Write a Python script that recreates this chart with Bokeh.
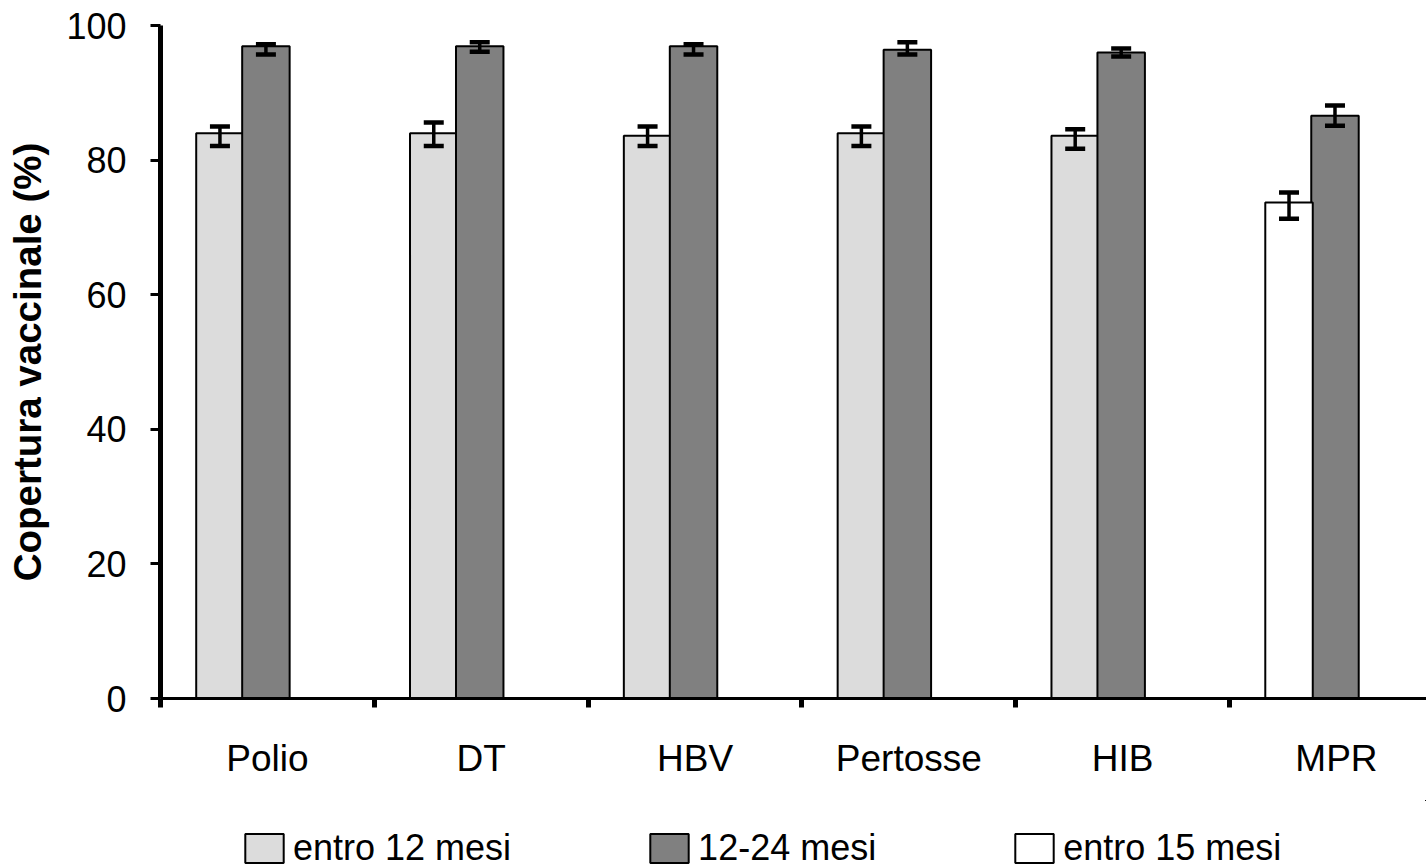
from bokeh.plotting import figure
from bokeh.layouts import column
from bokeh.models import (ColumnDataSource, Range1d, FixedTicker, Whisker, TeeHead,
                          Legend, LegendItem)
from bokeh.embed import file_html
from bokeh.resources import INLINE

# ---- data ----
categories = ["Polio", "DT", "HBV", "Pertosse", "HIB", "MPR"]

entro_12 = [84.0, 84.0, 83.6, 84.0, 83.6, None]
entro_12_low = [82.1, 82.1, 82.1, 82.1, 81.7, None]
entro_12_high = [85.0, 85.6, 85.0, 85.0, 84.6, None]

mesi_12_24 = [96.9, 96.9, 96.9, 96.4, 96.0, 86.6]
mesi_12_24_low = [95.7, 96.1, 95.7, 95.7, 95.4, 85.1]
mesi_12_24_high = [97.2, 97.5, 97.2, 97.5, 96.6, 88.1]

entro_15 = [None, None, None, None, None, 73.7]
entro_15_low = [None, None, None, None, None, 71.3]
entro_15_high = [None, None, None, None, None, 75.2]

y_ticks = [0, 20, 40, 60, 80, 100]

series_labels = ["entro 12 mesi", "12-24 mesi", "entro 15 mesi"]
series_colors = ["#DCDCDC", "#808080", "#FFFFFF"]

# ---- layout constants ----
BAR_W = 0.222
FONT = "Liberation Sans"
W = 1426
H_MAIN = 800
H_LEG = 67


def make_source(vals, lows, highs, offset):
    xs, tops, lo, hi = [], [], [], []
    for i, v in enumerate(vals):
        if v is None:
            continue
        xs.append(i + 0.5 + offset)
        tops.append(v)
        lo.append(lows[i])
        hi.append(highs[i])
    return ColumnDataSource(dict(x=xs, top=tops, lower=lo, upper=hi))


src12 = make_source(entro_12, entro_12_low, entro_12_high, -BAR_W)
src1224 = make_source(mesi_12_24, mesi_12_24_low, mesi_12_24_high, -0.007)
src15 = make_source(entro_15, entro_15_low, entro_15_high, -BAR_W)
sources = (src12, src1224, src15)

p = figure(width=W, height=H_MAIN, output_backend="svg", toolbar_location=None,
           x_range=Range1d(0, 5.921), y_range=Range1d(0, 100),
           min_border_left=160, min_border_right=0, min_border_top=25,
           min_border_bottom=102)
p.outline_line_color = None
p.xgrid.grid_line_color = None
p.ygrid.grid_line_color = None
p.background_fill_color = "white"
p.border_fill_color = "white"

for src, col in zip(sources, series_colors):
    p.vbar(x="x", top="top", bottom=0, width=BAR_W, source=src,
           fill_color=col, line_color="black", line_width=2)

for src in sources:
    w = Whisker(source=src, base="x", lower="lower", upper="upper",
                line_color="black", line_width=3.5, level="overlay",
                upper_head=TeeHead(size=20, line_width=4.5, line_color="black"),
                lower_head=TeeHead(size=20, line_width=4.5, line_color="black"))
    p.add_layout(w)

# ---- x axis ----
xa = p.xaxis[0]
xa.ticker = FixedTicker(ticks=[i + 0.5 for i in range(len(categories))],
                        minor_ticks=list(range(len(categories))))
xa.major_label_overrides = {i + 0.5: c for i, c in enumerate(categories)}
xa.major_tick_line_color = None
xa.major_tick_out = 0
xa.major_tick_in = 0
xa.minor_tick_out = 9
xa.minor_tick_in = 0
xa.minor_tick_line_width = 5
xa.minor_tick_line_color = "black"
xa.axis_line_width = 3
xa.axis_line_color = "black"
xa.major_label_text_font = FONT
xa.major_label_text_font_size = "37px"
xa.major_label_text_color = "black"
xa.major_label_standoff = 30

# ---- y axis ----
ya = p.yaxis[0]
ya.ticker = FixedTicker(ticks=y_ticks)
ya.major_tick_out = 10
ya.major_tick_in = 0
ya.major_tick_line_width = 3
ya.major_tick_line_color = "black"
ya.minor_tick_line_color = None
ya.axis_line_width = 5
ya.axis_line_color = "black"
ya.major_label_text_font = FONT
ya.major_label_text_font_size = "36px"
ya.major_label_text_color = "black"
ya.major_label_standoff = 24
ya.axis_label = "Copertura vaccinale (%)"
ya.axis_label_text_font = FONT
ya.axis_label_text_font_size = "38.5px"
ya.axis_label_text_font_style = "bold"
ya.axis_label_text_color = "black"
ya.axis_label_standoff = 14

# ---- legend (separate strip below the chart) ----
# the strip reuses the bar sources; its ranges lie far away from the bars so
# that only the legend swatches are visible
lp = figure(width=W, height=H_LEG, output_backend="svg", toolbar_location=None,
            x_range=Range1d(-1000, -994.079), y_range=Range1d(-1000, -999),
            x_axis_location=None, y_axis_location=None,
            min_border_left=160, min_border_right=0, min_border_top=0,
            min_border_bottom=0)
lp.outline_line_color = None
lp.xgrid.grid_line_color = None
lp.ygrid.grid_line_color = None
lp.background_fill_color = "white"
lp.border_fill_color = "white"

items = []
for lab, col, src in zip(series_labels, series_colors, sources):
    r = lp.vbar(x="x", top="top", bottom=0, width=BAR_W, source=src,
                fill_color=col, line_color="black", line_width=2)
    items.append(LegendItem(label=lab, renderers=[r]))

legend = Legend(items=items, orientation="horizontal", location=(80, -2),
                glyph_width=48, glyph_height=36, label_standoff=5, spacing=134,
                padding=0, margin=0, border_line_color=None,
                background_fill_alpha=0,
                label_text_font=FONT, label_text_font_size="36px",
                label_text_color="black")
lp.add_layout(legend)

layout = column(p, lp, spacing=0)
open("out.html", "w").write(file_html(layout, INLINE))
